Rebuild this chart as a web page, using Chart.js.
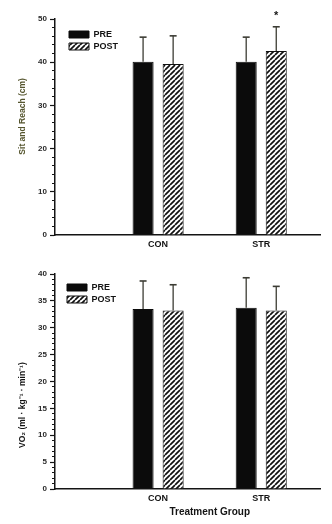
<!DOCTYPE html>
<html>
<head>
<meta charset="utf-8">
<script src="https://cdn.jsdelivr.net/npm/chart.js@4.4.1/dist/chart.umd.min.js"></script>
<style>
  html, body { margin: 0; padding: 0; background: #fff; }
  #wrap { position: relative; width: 332px; height: 524px; background: #fff; }
  canvas { position: absolute; left: 0; display: block; }
  #c1 { top: 0; }
  #c2 { top: 255px; }
</style>
</head>
<body>
<div id="wrap">
  <canvas id="c1" width="332" height="255"></canvas>
  <canvas id="c2" width="332" height="269"></canvas>
</div>
<script>
// ---- data ----
const categories = ['CON', 'STR'];
const seriesNames = ['PRE', 'POST'];

// Sit and reach (cm): group means and SD
const sitReachPre = [40.1, 40.1];
const sitReachPreSD = [5.7, 5.7];
const sitReachPost = [39.6, 42.6];
const sitReachPostSD = [6.5, 5.6];
const sitReachPostMarks = ['', '*'];

// VO2 (ml/kg/min): group means and SD
const vo2Pre = [33.5, 33.7];
const vo2PreSD = [5.2, 5.6];
const vo2Post = [33.2, 33.2];
const vo2PostSD = [4.8, 4.5];

// y axis ranges: max, labelled step, minor step
const sitReachAxis = [50, 10, 2];
const vo2Axis = [40, 5, 1];

// ---- styling ----
const FONT = "'Liberation Sans', Arial, sans-serif";
const INK = '#141414';

function hatchPattern() {
  const s = 5;
  const c = document.createElement('canvas');
  c.width = s; c.height = s;
  const g = c.getContext('2d');
  g.fillStyle = '#fff';
  g.fillRect(0, 0, s, s);
  g.strokeStyle = '#111';
  g.lineWidth = 1.7;
  g.beginPath();
  for (let k = -1; k <= 1; k++) {
    g.moveTo(k * s, s);
    g.lineTo(k * s + s, 0);
  }
  g.stroke();
  return g.createPattern(c, 'repeat');
}
const HATCH = hatchPattern();

// one-sided error bars (+SD) with cap, and optional marks above them
const errorBars = {
  id: 'errorBars',
  afterDatasetsDraw(chart, args, opts) {
    const ctx = chart.ctx;
    const y = chart.scales.y;
    chart.data.datasets.forEach((ds, di) => {
      if (!ds.errors) return;
      const meta = chart.getDatasetMeta(di);
      meta.data.forEach((bar, i) => {
        const top = y.getPixelForValue(ds.data[i].y + ds.errors[i]);
        ctx.save();
        ctx.strokeStyle = opts.color;
        ctx.lineWidth = opts.width;
        ctx.beginPath();
        ctx.moveTo(bar.x, bar.y);
        ctx.lineTo(bar.x, top);
        ctx.stroke();
        ctx.lineWidth = opts.capWidth;
        ctx.beginPath();
        ctx.moveTo(bar.x - opts.cap / 2, top);
        ctx.lineTo(bar.x + opts.cap / 2, top);
        ctx.stroke();
        if (ds.marks && ds.marks[i]) {
          ctx.fillStyle = INK;
          ctx.font = 'bold 11px ' + FONT;
          ctx.textAlign = 'center';
          ctx.textBaseline = 'middle';
          ctx.fillText(ds.marks[i], bar.x, top - 11);
        }
        ctx.restore();
      });
    });
  }
};

// place the legend column inside the plot area, near the top-left corner
const legendPlacement = {
  id: 'legendPlacement',
  afterLayout(chart, args, opts) {
    const l = chart.legend;
    const a = chart.chartArea;
    if (!l) return;
    l.left = a.left + opts.dx;
    l.top = a.top + opts.dy;
    l.right = a.right;
    l.bottom = a.bottom;
  }
};

function points(values) {
  return values.map((v, i) => ({ x: i + 1, y: v }));
}

function makeChart(canvasId, pre, preSD, post, postSD, postMarks, axis, yTitle, yTitleColor, xTitle, opts) {
  const [yMax, yMajor, yMinor] = axis;
  const tickFont = { family: FONT, size: 8, weight: 'bold' };
  return new Chart(document.getElementById(canvasId), {
    type: 'bar',
    data: {
      datasets: [
        {
          label: seriesNames[0],
          data: points(pre),
          errors: preSD,
          backgroundColor: '#0b0b0b',
          borderColor: '#0b0b0b',
          borderWidth: 1
        },
        {
          label: seriesNames[1],
          data: points(post),
          errors: postSD,
          marks: postMarks,
          backgroundColor: HATCH,
          borderColor: '#111',
          borderWidth: 1
        }
      ]
    },
    options: {
      responsive: false,
      animation: false,
      events: [],
      categoryPercentage: 0.583,
      barPercentage: 0.7,
      layout: { padding: { top: 19, right: 12, bottom: 0, left: 0 } },
      plugins: {
        legend: {
          position: 'chartArea',
          align: 'start',
          labels: {
            boxWidth: 20,
            boxHeight: 7,
            padding: 3,
            color: INK,
            font: { family: FONT, size: 9, weight: 'bold' }
          }
        },
        tooltip: { enabled: false },
        errorBars: { color: '#3c3c34', width: 1.3, capWidth: 1.6, cap: 7 },
        legendPlacement: { dx: opts.legendDx, dy: opts.legendDy }
      },
      scales: {
        x: {
          type: 'linear',
          offset: false,
          min: 0,
          max: 2.57,
          grid: { display: false, drawTicks: false },
          border: { display: true, color: INK, width: 1.5 },
          afterBuildTicks: (s) => { s.ticks = categories.map((_, i) => ({ value: i + 1 })); },
          ticks: {
            autoSkip: false,
            maxRotation: 0,
            padding: 4,
            color: INK,
            font: { family: FONT, size: 9, weight: 'bold' },
            callback: (v) => categories[v - 1] || ''
          },
          title: {
            display: !!xTitle,
            text: xTitle || '',
            color: INK,
            font: { family: FONT, size: 10, weight: 'bold' },
            padding: { top: 0, bottom: 6 }
          },
          afterFit: (s) => { s.height = opts.xHeight; }
        },
        y: {
          position: 'left',
          weight: 1,
          min: 0,
          max: yMax,
          ticks: { stepSize: yMajor, padding: 3, color: '#2a2a2a', font: tickFont },
          grid: { drawOnChartArea: false, tickLength: 5, tickColor: INK, tickWidth: 1.2 },
          border: { color: INK, width: 1.5 },
          title: {
            display: true,
            text: yTitle,
            color: yTitleColor,
            font: { family: FONT, size: 8.5, weight: 'bold' },
            padding: { top: 18, bottom: 0 }
          },
          afterFit: (s) => { s.width = 55; }
        },
        yMinor: {
          position: 'left',
          weight: 0,
          min: 0,
          max: yMax,
          ticks: { stepSize: yMinor, display: false },
          grid: { drawOnChartArea: false, tickLength: 3, tickColor: INK, tickWidth: 1 },
          border: { display: false },
          afterFit: (s) => { s.width = 0; }
        }
      }
    },
    plugins: [errorBars, legendPlacement]
  });
}

makeChart('c1', sitReachPre, sitReachPreSD, sitReachPost, sitReachPostSD, sitReachPostMarks,
  sitReachAxis, '         Sit and Reach (cm)', '#56562f', '',
  { xHeight: 20, legendDx: 11, legendDy: 8 });

makeChart('c2', vo2Pre, vo2PreSD, vo2Post, vo2PostSD, null,
  vo2Axis, 'VO\u2082 (ml \u00B7 kg\u207B\u00B9 \u00B7 min\u207B\u00B9)                    ', INK,
  '                Treatment Group',
  { xHeight: 35, legendDx: 9, legendDy: 6 });
</script>
</body>
</html>
